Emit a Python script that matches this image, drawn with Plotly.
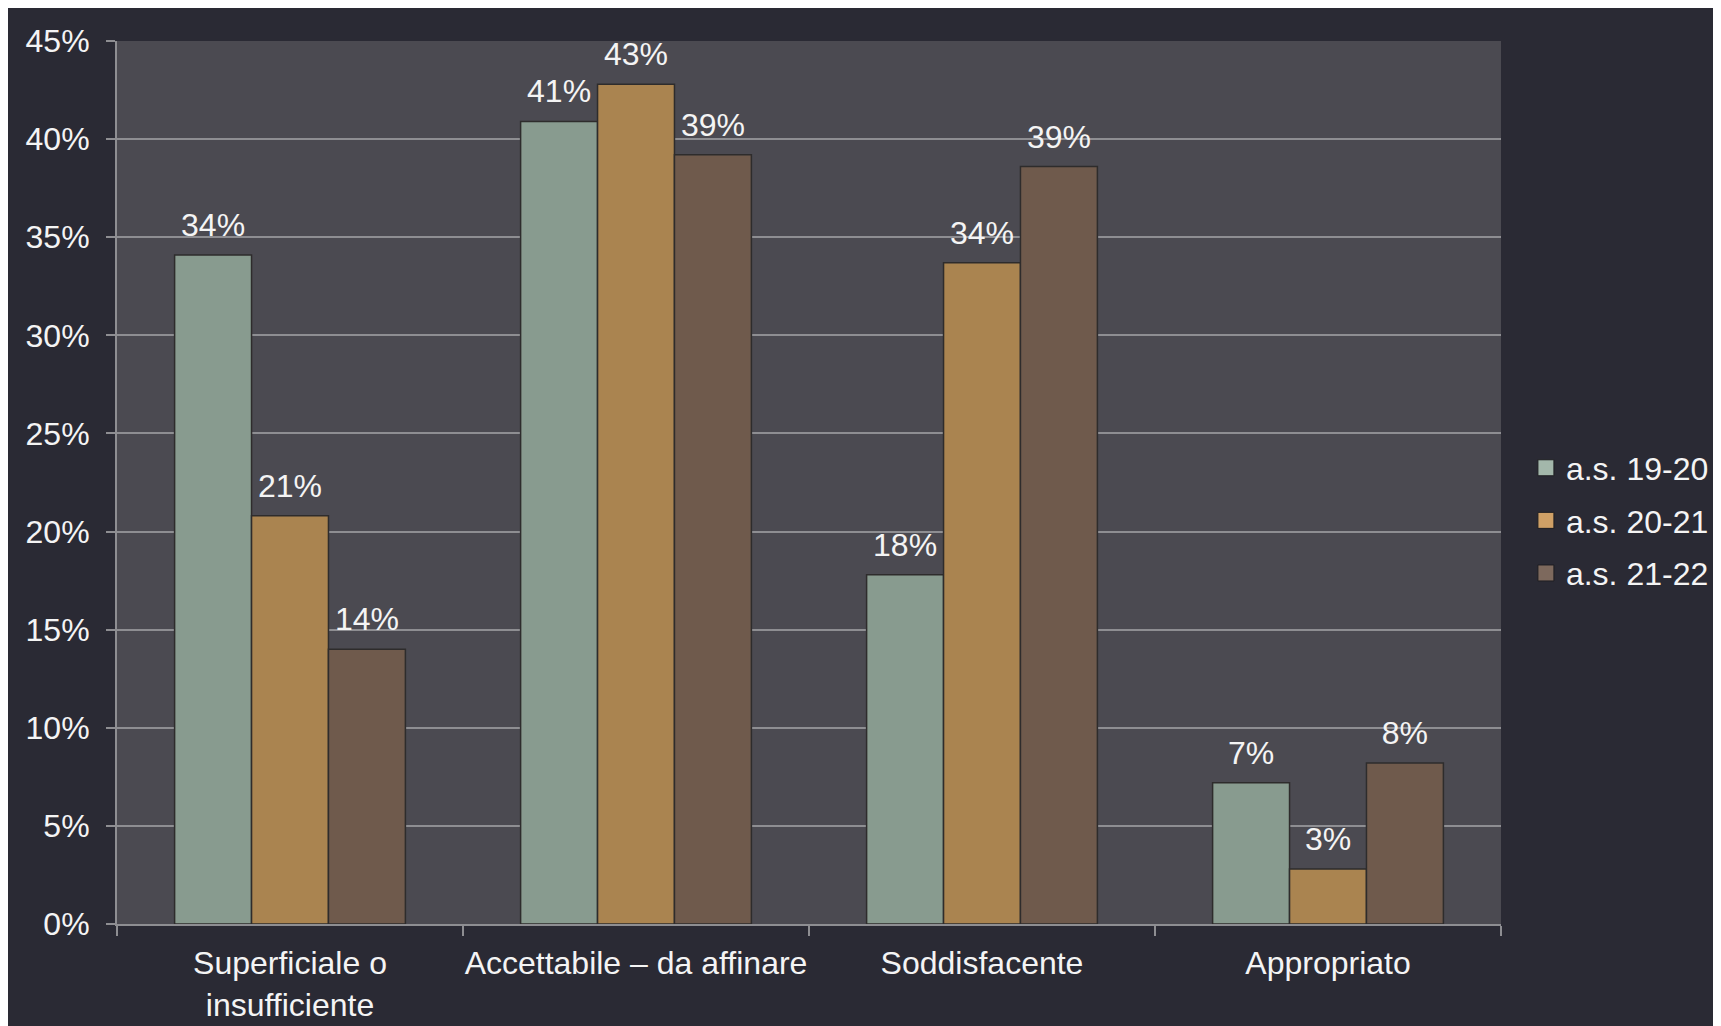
import plotly.graph_objects as go

categories = ["Superficiale o<br>insufficiente", "Accettabile – da affinare", "Soddisfacente", "Appropriato"]
series_names = ["a.s. 19-20", "a.s. 20-21", "a.s. 21-22"]
values_19_20 = [0.341, 0.409, 0.178, 0.072]
values_20_21 = [0.208, 0.428, 0.337, 0.028]
values_21_22 = [0.140, 0.392, 0.386, 0.082]
colors = ["#889b8f", "#aa8450", "#6f5a4c"]
legend_colors = ["#a3b7ab", "#cfa066", "#7d695d"]

FONT = "Liberation Sans, Arial, sans-serif"
SIZE = 32
all_values = [values_19_20, values_20_21, values_21_22]
fig = go.Figure()
for name, vals, col in zip(series_names, all_values, colors):
    fig.add_trace(go.Bar(
        x=categories, y=vals, name=name, showlegend=False,
        marker=dict(color=col, line=dict(color="#2e2c2c", width=1.5)),
        hoverinfo="skip",
    ))
for name, vals in zip(series_names, all_values):
    fig.add_trace(go.Scatter(
        x=categories, y=vals, mode="markers+text", showlegend=False,
        marker=dict(size=16, opacity=0), text=[f"{round(v*100)}%" for v in vals],
        textposition="top center", textfont=dict(color="#f4f4f4", size=SIZE, family=FONT),
        hoverinfo="skip",
    ))
# legend-only entries on a hidden overlaying axis (not part of the grouping)
for i, (name, lc) in enumerate(zip(series_names, legend_colors)):
    fig.add_trace(go.Scatter(
        x=[categories[0]], y=[None], mode="markers", name=name, legendgroup=f"g{i}",
        xaxis="x2",
        marker=dict(symbol="square", size=16, color=lc, line=dict(color="#1e1e22", width=1)),
        hoverinfo="skip",
    ))

fig.update_layout(
    width=1713, height=1018,
    paper_bgcolor="#2a2a34", plot_bgcolor="#4b4a51",
    margin=dict(l=109, r=220, t=33, b=102, autoexpand=False),
    barmode="group", bargap=0.333, bargroupgap=0,
    scattermode="group", scattergap=0.333,
    font=dict(family=FONT, size=SIZE, color="#f4f4f4"),
    showlegend=True,
    legend=dict(x=1.018, y=0.457, xanchor="left", yanchor="middle",
                bgcolor="rgba(0,0,0,0)", font=dict(size=SIZE, color="#f4f4f4"),
                tracegroupgap=8, itemsizing="trace"),
    xaxis2=dict(overlaying="x", visible=False, matches="x"),
)
fig.update_yaxes(
    range=[0, 0.45], dtick=0.05, tickformat=".0%", automargin=False,
    showgrid=True, gridcolor="#8e8e92", gridwidth=2,
    showline=True, linecolor="#8e8e92", linewidth=2,
    ticks="outside", ticklen=9, tickcolor="#8e8e92", tickwidth=2,
    tickfont=dict(size=SIZE, color="#f4f4f4"), zeroline=False, ticklabelstandoff=10,
)
fig.update_layout(xaxis=dict(
    showline=True, linecolor="#8e8e92", linewidth=2, tickangle=0, automargin=False,
    ticks="outside", ticklen=10, tickcolor="#8e8e92", tickwidth=2, tickson="boundaries",
    tickfont=dict(size=SIZE, color="#f4f4f4"), ticklabelstandoff=10,
))
fig.write_html("out.html")
